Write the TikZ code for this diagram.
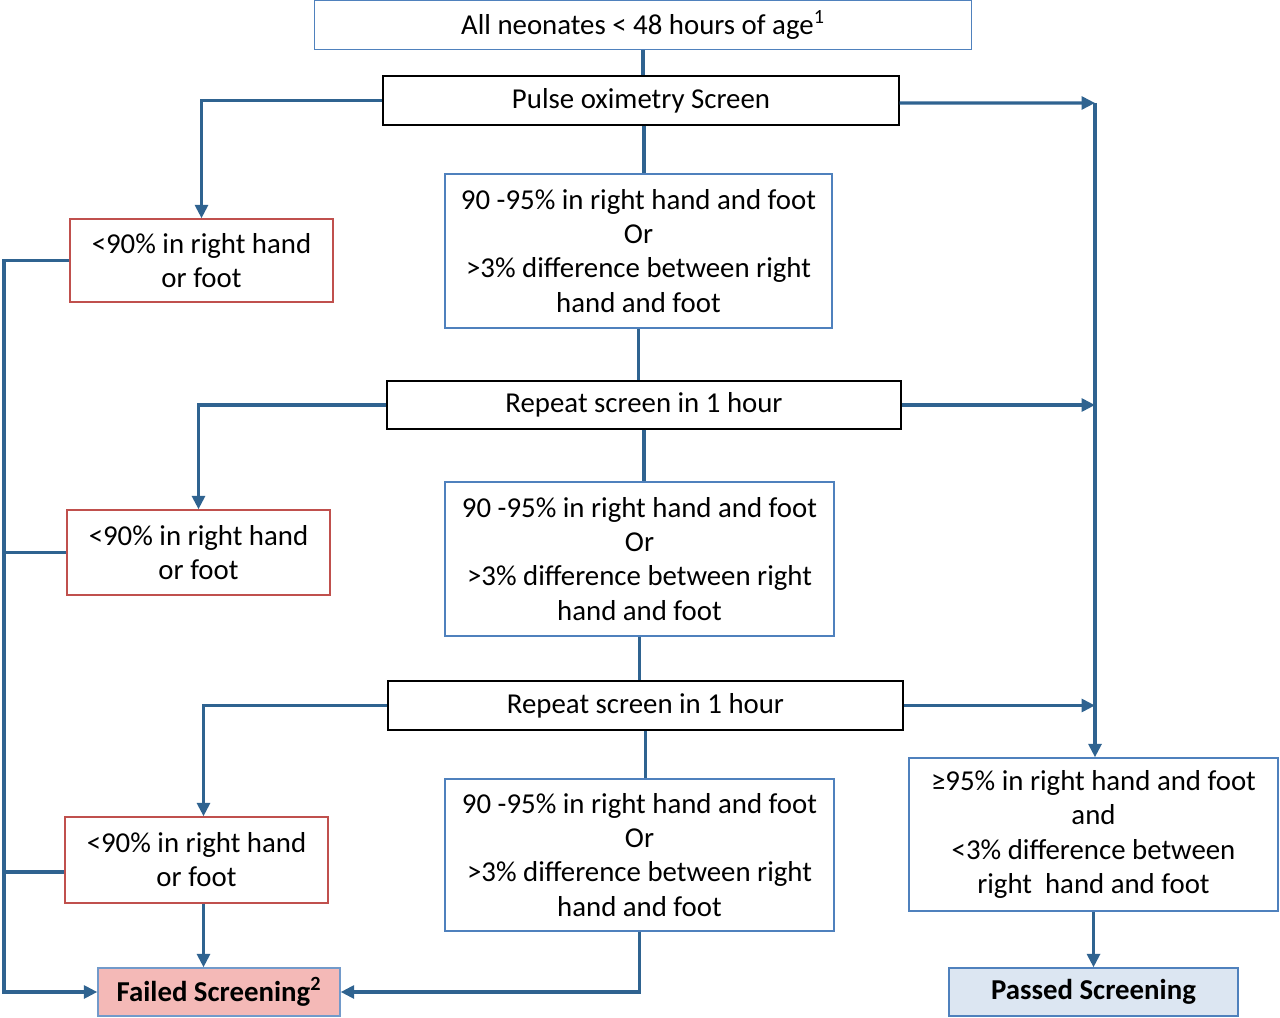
\documentclass[tikz,border=0pt]{standalone}
\usepackage{fontspec}
\setmainfont{Carlito}
\usetikzlibrary{arrows.meta}

\definecolor{linkblue}{HTML}{2F6390}
\definecolor{boxblue}{HTML}{4F81BD}
\definecolor{boxred}{HTML}{C0504D}
\definecolor{failfill}{HTML}{F4B9B7}
\definecolor{passfill}{HTML}{DCE6F2}

\tikzset{
  box/.style={line width=0.8pt, align=center, inner sep=0pt,
    font=\fontsize{16.4}{19.4}\selectfont},
  bluebox/.style={box, draw=boxblue},
  blackbox/.style={box, draw=black},
  redbox/.style={box, draw=boxred},
  link/.style={draw=linkblue, line width=1.8pt},
  arr/.style={link, -{Triangle[length=0.27cm,width=0.26cm]}},
}

\begin{document}
\begin{tikzpicture}
            \useasboundingbox (0,0) rectangle (25.6,-20.36);

            \node[bluebox, minimum width=13.14cm, minimum height=0.98cm] (top) at (12.86,-0.5) {All neonates < 48 hours of age\textsuperscript{1}};
            \node[blackbox, minimum width=10.32cm, minimum height=0.98cm] (pulse) at (12.82,-2.01) {Pulse oximetry Screen};
            \node[bluebox, minimum width=7.74cm, minimum height=3.08cm] (mid1) at (12.77,-5.02) {90 -95\% in right hand and foot\\Or\\>3\% difference between right\\hand and foot};
            \node[redbox, minimum width=5.26cm, minimum height=1.66cm] (red1) at (4.03,-5.21) {<90\% in right hand\\or foot};

            \node[blackbox, minimum width=10.28cm, minimum height=0.96cm] (rep1) at (12.88,-8.10) {Repeat screen in 1 hour};
            \node[bluebox, minimum width=7.78cm, minimum height=3.08cm] (mid2) at (12.79,-11.18) {90 -95\% in right hand and foot\\Or\\>3\% difference between right\\hand and foot};
            \node[redbox, minimum width=5.26cm, minimum height=1.70cm] (red2) at (3.97,-11.05) {<90\% in right hand\\or foot};

            \node[blackbox, minimum width=10.30cm, minimum height=0.98cm] (rep2) at (12.91,-14.11) {Repeat screen in 1 hour};
            \node[bluebox, minimum width=7.78cm, minimum height=3.04cm] (mid3) at (12.79,-17.10) {90 -95\% in right hand and foot\\Or\\>3\% difference between right\\hand and foot};
            \node[redbox, minimum width=5.26cm, minimum height=1.72cm] (red3) at (3.93,-17.20) {<90\% in right hand\\or foot};

            \node[bluebox, minimum width=7.38cm, minimum height=3.06cm] (ok) at (21.87,-16.69) {≥95\% in right hand and foot\\and\\<3\% difference between\\right~ hand and foot};

            \node[box, draw=boxblue!80, fill=failfill, minimum width=4.84cm, minimum height=0.96cm, font=\fontsize{16.4}{19.4}\selectfont\bfseries] (failed) at (4.38,-19.84) {Failed Screening\textsuperscript{2}};
            \node[bluebox, fill=passfill, minimum width=5.78cm, minimum height=0.96cm, font=\fontsize{16.4}{19.4}\selectfont\bfseries] (passed) at (21.87,-19.84) {Passed Screening};

            \coordinate (rbar) at (21.9,-2.06);
            \coordinate (lbar) at (0.08,-5.24);

            \draw[link] (top.south) -- (top.south |- pulse.north);
            \draw[link] ([xshift=0.06cm]pulse.south) -- ([xshift=0.06cm]pulse.south |- mid1.north);
            \draw[link] (mid1.south) -- (mid1.south |- rep1.north);
            \draw[link] (rep1.south) -- (rep1.south |- mid2.north);
            \draw[link] (mid2.south) -- (mid2.south |- rep2.north);
            \draw[link] (rep2.south) -- (rep2.south |- mid3.north);

            \draw[arr] (pulse.west) -| (red1.north);
            \draw[arr] (rep1.west) -| (red2.north);
            \draw[arr] (rep2.west) -| ([xshift=0.14cm]red3.north);

            \draw[arr] ([yshift=-0.05cm]pulse.east) -- (rbar);
            \draw[arr] (rep1.east) -- (rep1.east -| rbar);
            \draw[arr] (rep2.east) -- (rep2.east -| rbar);
            \draw[arr] (rbar) -- (rbar |- ok.north);
            \draw[arr] (ok.south) -- (ok.south |- passed.north);

            \draw[arr] (red1.west) -- (red1.west -| lbar) |- (failed.west);
            \draw[link] (red2.west) -- (red2.west -| lbar);
            \draw[link] ([yshift=-0.24cm]red3.west) -- ([yshift=-0.24cm]red3.west -| lbar);
            \draw[arr] ([xshift=0.14cm]red3.south) -- ([xshift=0.14cm]red3.south |- failed.north);
            \draw[arr] (mid3.south) |- (failed.east);
        \end{tikzpicture}
\end{document}
